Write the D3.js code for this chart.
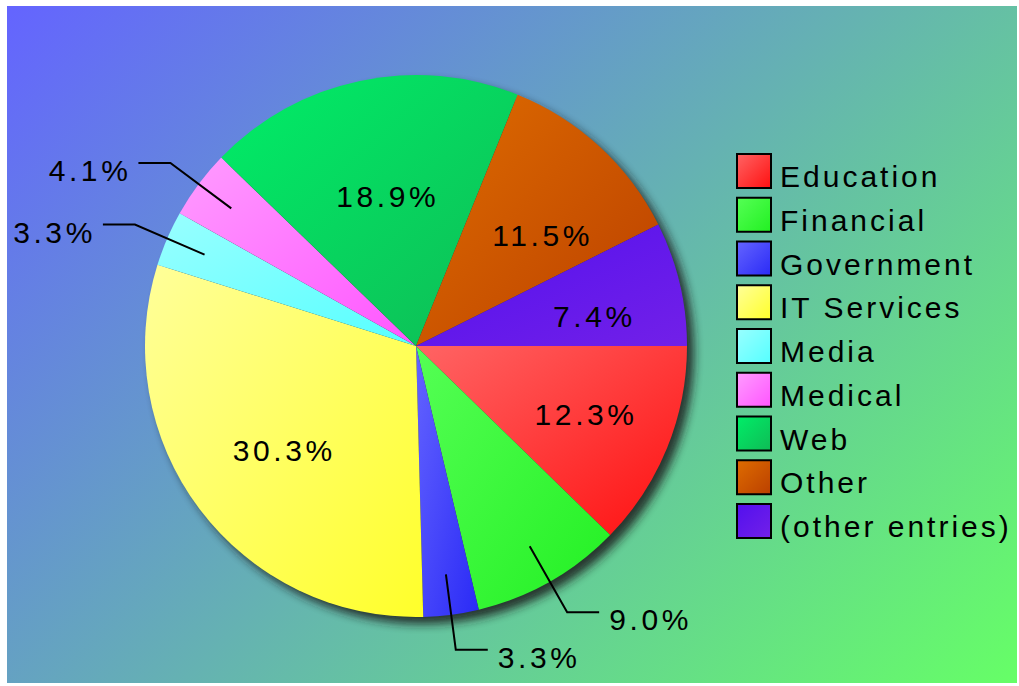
<!DOCTYPE html>
<html>
<head>
<meta charset="utf-8">
<script src="https://cdn.jsdelivr.net/npm/d3@7"></script>
<style>
  body { margin: 0; background: #fff; }
  svg text {
    font-family: "Liberation Sans", Arial, sans-serif;
    font-size: 30px;
    letter-spacing: 3px;
    fill: #000;
  }
  svg text.pct { letter-spacing: 3.6px; }
</style>
</head>
<body>
<div id="chart"></div>
<script>
const categories  = ['Education', 'Financial', 'Government', 'IT Services', 'Media', 'Medical', 'Web', 'Other', '(other entries)'];
const shares      = [12.3, 9.0, 3.3, 30.3, 3.3, 4.1, 18.9, 11.5, 7.4];
const lightColors = ['#ff6464', '#55ff55', '#6464ff', '#ffff9a', '#99ffff', '#ff9cff', '#00ee68', '#de6c00', '#5210ee'];
const darkColors  = ['#ff1010', '#22f022', '#2a2af6', '#ffff2a', '#55ffff', '#ff55ff', '#0fbb55', '#bb4000', '#7220e8'];
// small slices get their label outside with a leader line
const outsideLabels = ['Financial', 'Government', 'Media', 'Medical'];

const W = 1019, H = 686;
const cx = 416, cy = 346, R = 271;

const svg = d3.select('#chart').append('svg')
    .attr('width', W).attr('height', H);
const defs = svg.append('defs');

// background gradient, blue top-left to green bottom-right
const bg = defs.append('linearGradient').attr('id', 'bg')
    .attr('gradientUnits', 'userSpaceOnUse')
    .attr('x1', 7).attr('y1', 6).attr('x2', 853).attr('y2', 852);
bg.append('stop').attr('offset', 0).attr('stop-color', '#6464ff');
bg.append('stop').attr('offset', 1).attr('stop-color', '#66ff66');

svg.append('rect')
    .attr('x', 7).attr('y', 6).attr('width', W - 9).attr('height', H - 9)
    .attr('fill', 'url(#bg)');

// one gradient per category, light top-left to dark bottom-right
categories.forEach((c, i) => {
    const g = defs.append('linearGradient').attr('id', 'grad' + i)
        .attr('x1', 0).attr('y1', 0).attr('x2', 1).attr('y2', 1);
    g.append('stop').attr('offset', 0).attr('stop-color', lightColors[i]);
    g.append('stop').attr('offset', 1).attr('stop-color', darkColors[i]);
});

const shadow = defs.append('filter').attr('id', 'shadow')
    .attr('x', '-20%').attr('y', '-20%').attr('width', '140%').attr('height', '140%');
shadow.append('feGaussianBlur').attr('stdDeviation', 5);

const pie = d3.pie().sort(null).value(d => d)
    .startAngle(Math.PI / 2).endAngle(Math.PI / 2 + 2 * Math.PI);
const arcs = pie(shares);
const arc = d3.arc().innerRadius(0).outerRadius(R);

const g = svg.append('g').attr('transform', `translate(${cx},${cy})`);

g.append('circle')
    .attr('cx', 7).attr('cy', 7).attr('r', R)
    .attr('fill', '#1e1e1e').attr('opacity', 0.85)
    .attr('filter', 'url(#shadow)');

g.selectAll('path.slice').data(arcs).join('path')
    .attr('class', 'slice')
    .attr('d', arc)
    .attr('fill', (d, i) => `url(#grad${i})`);

// labels
const dirOf = a => [Math.sin(a), -Math.cos(a)];
const labelRx = 175, labelRy = 161;   // inside labels sit on a slightly wide ellipse

arcs.forEach((d, i) => {
    const mid = (d.startAngle + d.endAngle) / 2;
    const [dx, dy] = dirOf(mid);
    const label = d.data.toFixed(1) + '%';

    if (outsideLabels.includes(categories[i])) {
        const x0 = dx * R * 0.85, y0 = dy * R * 0.85;
        const x1 = dx * R * 1.13, y1 = dy * R * 1.13;
        const side = dx >= 0 ? 1 : -1;
        const x2 = x1 + side * 32;
        g.append('polyline')
            .attr('points', `${x0},${y0} ${x1},${y1} ${x2},${y1}`)
            .attr('fill', 'none').attr('stroke', '#000').attr('stroke-width', 2);
        g.append('text').attr('class', 'pct')
            .attr('x', side > 0 ? x2 + 10 : x2 - 7)
            .attr('y', y1 + 18)
            .attr('text-anchor', side > 0 ? 'start' : 'end')
            .text(label);
    } else {
        g.append('text').attr('class', 'pct')
            .attr('text-anchor', 'middle')
            .attr('x', dx * labelRx + 8)
            .attr('y', dy * labelRy + 18)
            .text(label);
    }
});

// legend
const legendX = 737, legendY = 154, rowH = 43.75;
const legend = svg.append('g');
categories.forEach((c, i) => {
    const y = legendY + i * rowH;
    legend.append('rect')
        .attr('x', legendX).attr('y', y).attr('width', 34).attr('height', 34)
        .attr('fill', `url(#grad${i})`)
        .attr('stroke', '#000').attr('stroke-width', 2);
    legend.append('text')
        .attr('x', legendX + 43).attr('y', y + 33)
        .text(c);
});
</script>
</body>
</html>
